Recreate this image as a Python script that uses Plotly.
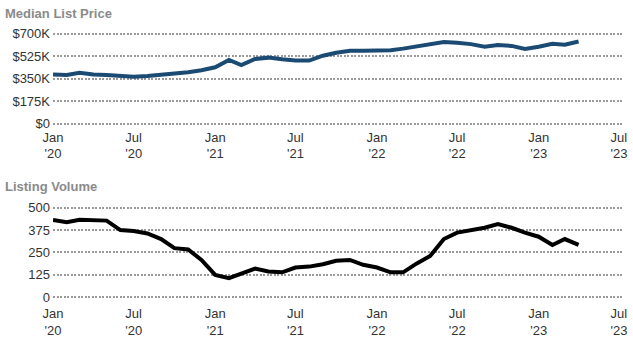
import plotly.graph_objects as go
import pandas as pd

months = pd.date_range("2020-01-01", periods=40, freq="MS").strftime("%Y-%m-%d").tolist()

median_list_price = [382000, 378000, 396000, 382000, 378000, 370000, 365000, 370000, 378000, 390000,
                     400000, 415000, 438000, 495000, 455000, 503000, 513000, 500000, 490000, 490000,
                     528000, 551000, 566000, 566000, 568000, 571000, 583000, 601000, 618000, 634000,
                     628000, 618000, 598000, 612000, 604000, 580000, 598000, 620000, 614000, 638000]

listing_volume = [432, 419, 433, 433, 428, 375, 370, 356, 325, 274,
                  267, 208, 125, 106, 130, 160, 144, 139, 166, 171,
                  184, 204, 208, 181, 166, 139, 139, 189, 230, 325,
                  361, 375, 388, 408, 388, 361, 338, 292, 325, 292]

price_ticks = [0, 175000, 350000, 525000, 700000]
price_tick_labels = ["$0", "$175K", "$350K", "$525K", "$700K"]
volume_ticks = [0, 125, 250, 375, 500]
volume_tick_labels = ["0", "125", "250", "375", "500"]

W, H = 633, 350
PAD = 2.0  # px of padding so edge gridlines are drawn

def ydom(top_px, bot_px):
    return [1 - (bot_px + PAD) / H, 1 - (top_px - PAD) / H]

def yrng(vmax, top_px, bot_px):
    u = vmax / (bot_px - top_px) * PAD
    return [-u, vmax + u]

fig = go.Figure()
fig.add_trace(go.Scatter(x=months, y=median_list_price, mode="lines",
                         line=dict(color="#1b4a72", width=4), xaxis="x", yaxis="y",
                         hoverinfo="x+y"))
fig.add_trace(go.Scatter(x=months, y=listing_volume, mode="lines",
                         line=dict(color="#000000", width=4), xaxis="x2", yaxis="y2",
                         hoverinfo="x+y"))

xcommon = dict(type="date", range=["2020-01-01", "2023-07-08"], dtick="M6",
               tick0="2020-01-01", tickformat="%b<br>'%y", showgrid=False,
               zeroline=False, showline=False, ticks="",
               tickfont=dict(family="Liberation Sans, Arial", size=13, color="#333333"))
ycommon = dict(showgrid=True, gridcolor="#9a9a9a", gridwidth=2, griddash="2px,1.5px",
               zeroline=False, showline=False, ticks="", ticklabelstandoff=2,
               tickfont=dict(family="Liberation Sans, Arial", size=13, color="#333333"))

fig.update_layout(
    width=W, height=H,
    margin=dict(l=53, r=11, t=0, b=0),
    plot_bgcolor="white", paper_bgcolor="white",
    showlegend=False,
    xaxis=dict(**xcommon, anchor="y", domain=[0, 1], ticklabelstandoff=2),
    xaxis2=dict(**xcommon, anchor="y2", domain=[0, 1], ticklabelstandoff=5),
    yaxis=dict(**ycommon, domain=ydom(29.5, 122.5), range=yrng(700000, 29.5, 122.5),
               tickvals=price_ticks, ticktext=price_tick_labels, anchor="x"),
    yaxis2=dict(**ycommon, domain=ydom(209.3, 301.7), range=yrng(500, 209.3, 301.7),
                tickvals=volume_ticks, ticktext=volume_tick_labels, anchor="x2"),
    annotations=[
        dict(text="<b>Median List Price</b>", xref="paper", yref="paper",
             x=(3 - 53) / (W - 64), y=1 - 8.5 / H, xanchor="left", yanchor="middle",
             showarrow=False, font=dict(family="Liberation Sans, Arial", size=13, color="#8a8a8a")),
        dict(text="<b>Listing Volume</b>", xref="paper", yref="paper",
             x=(3 - 53) / (W - 64), y=1 - 187 / H, xanchor="left", yanchor="middle",
             showarrow=False, font=dict(family="Liberation Sans, Arial", size=13, color="#8a8a8a")),
    ],
)

fig.write_html("out.html")
